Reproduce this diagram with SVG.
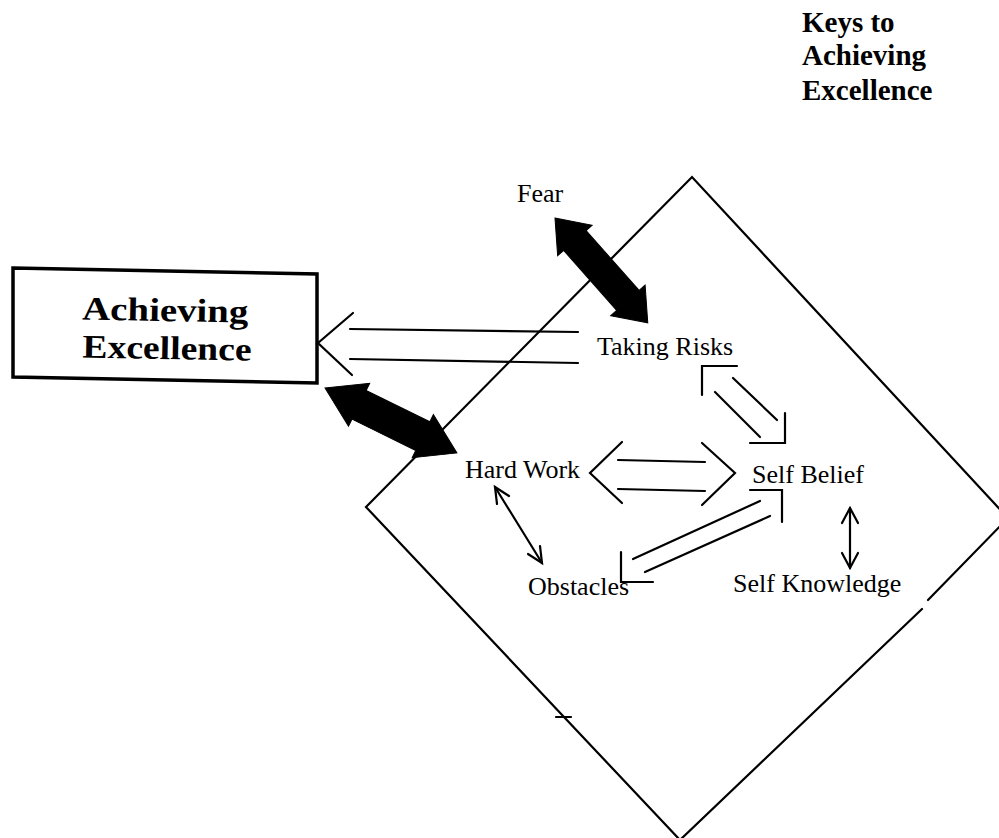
<svg xmlns="http://www.w3.org/2000/svg" width="999" height="838" viewBox="0 0 999 838">
<style>
.ln{fill:none;stroke:#000;stroke-width:2.2;stroke-linecap:round;stroke-linejoin:miter}
.lbl{font-family:"Liberation Serif","Times New Roman",serif;font-size:26px;fill:#000}
.ttl{font-family:"Liberation Serif","Times New Roman",serif;font-weight:bold;font-size:29px;fill:#000}
.big{font-family:"Liberation Serif","Times New Roman",serif;font-weight:bold;font-size:33px;fill:#000}
.fat{fill:#000;stroke:#000;stroke-width:1}
</style>
<rect width="999" height="838" fill="#fff"/>
<g id="title">
<text class="ttl" x="802" y="32">Keys to</text>
<text class="ttl" x="802" y="65">Achieving</text>
<text class="ttl" x="802" y="100">Excellence</text>
</g>
<g id="diamond">
<polyline class="ln" points="928,600 1008,518 692,177 366,507 680,840 922,609"/>
<line class="ln" x1="556" y1="717" x2="571" y2="717"/>
</g>
<g id="achieving-excellence">
<polygon points="13,268 317,274 317,383 13,377" fill="#fff" stroke="#000" stroke-width="3.5"/>
<g transform="rotate(1.1 165 325)">
<text class="big" x="82" y="321" textLength="166" lengthAdjust="spacingAndGlyphs">Achieving</text>
<text class="big" x="83" y="359" textLength="169" lengthAdjust="spacingAndGlyphs">Excellence</text>
</g>
</g>
<g id="fear"><text class="lbl" x="517" y="202">Fear</text></g>
<g id="taking-risks"><text class="lbl" x="597" y="355">Taking Risks</text></g>
<g id="hard-work"><text class="lbl" x="465" y="478">Hard Work</text></g>
<g id="self-belief"><text class="lbl" x="752" y="483">Self Belief</text></g>
<g id="obstacles"><text class="lbl" x="528" y="595">Obstacles</text></g>
<g id="self-knowledge"><text class="lbl" x="733" y="592">Self Knowledge</text></g>
<g id="connectors">
<polygon class="fat" transform="translate(555,218) rotate(48.5)" points="0,0 30,-23 30,-15 110,-15 110,-23 140,0 110,23 110,15 30,15 30,23"/>
<polygon class="fat" transform="translate(325,388) rotate(26.2)" points="0,0 38,-24 38,-16 109,-16 109,-24 147,0 109,24 109,16 38,16 38,24"/>
<line class="ln" x1="350" y1="329" x2="578" y2="332"/>
<line class="ln" x1="350" y1="359" x2="578" y2="363"/>
<polyline class="ln" points="353,313 318,343 352,375"/>
<polyline class="ln" points="702,395 702,366 737,366"/>
<line class="ln" x1="733" y1="378" x2="777" y2="420"/>
<line class="ln" x1="715" y1="392" x2="760" y2="437"/>
<polyline class="ln" points="750,443 785,443 785,413"/>
<polyline class="ln" points="622,442 590,473 622,503"/>
<polyline class="ln" points="702,443 735,473 702,505"/>
<line class="ln" x1="618" y1="460" x2="705" y2="462"/>
<line class="ln" x1="618" y1="489" x2="705" y2="491"/>
<polyline class="ln" points="750,490 782,490 782,522"/>
<line class="ln" x1="760" y1="501" x2="633" y2="559"/>
<line class="ln" x1="770" y1="516" x2="645" y2="572"/>
<polyline class="ln" points="621,552 621,582 653,582"/>
<line class="ln" x1="495" y1="487" x2="542" y2="563"/>
<polyline class="ln" points="497,504 495,487 509,496"/>
<polyline class="ln" points="540,546 542,563 528,554"/>
<line class="ln" x1="850" y1="508" x2="850" y2="568"/>
<polyline class="ln" points="842,523 850,508 858,523"/>
<polyline class="ln" points="842,553 850,568 858,553"/>
</g>
</svg>
